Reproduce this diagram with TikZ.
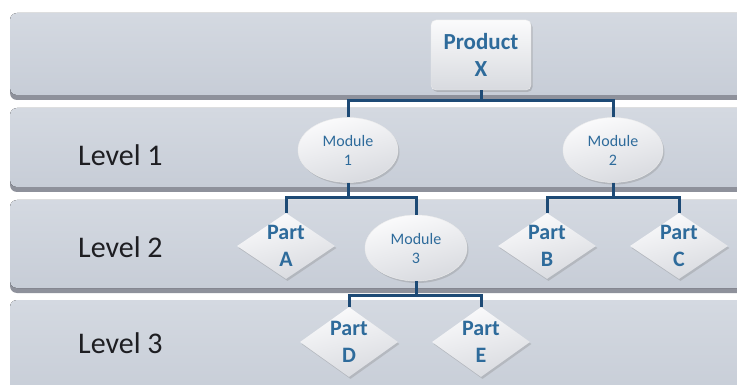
\documentclass[tikz,border=0pt]{standalone}
\usepackage{fontspec}
\setmainfont{Carlito}
\usetikzlibrary{shapes.geometric,shadows}

\definecolor{bandtop}{HTML}{D4D9E1}
\definecolor{bandbot}{HTML}{C7CDD7}
\definecolor{bandshade}{HTML}{8E919B}
\definecolor{wire}{HTML}{1D4A75}
\definecolor{ink}{HTML}{2E6B9B}
\definecolor{labelink}{HTML}{1E1E22}
\definecolor{nodetop}{HTML}{FBFBFC}
\definecolor{nodebot}{HTML}{D8DADF}

\tikzset{
  band/.style={rounded corners=7pt, top color=bandtop, bottom color=bandbot, draw=none},
  bandshadow/.style={rounded corners=7pt, fill=bandshade, draw=none},
  levellabel/.style={anchor=west, text=labelink, font=\fontsize{30}{34}\selectfont, inner sep=0pt},
  boxnode/.style={rectangle, rounded corners=5pt, minimum width=100pt, minimum height=70pt,
    top color=nodetop, bottom color=nodebot, draw=white!85!gray, line width=0.4pt,
    drop shadow={shadow xshift=1.5pt, shadow yshift=-2pt, opacity=0.35},
    text=ink, align=center, font=\bfseries\fontsize{23}{27}\selectfont},
  modnode/.style={ellipse, minimum width=100pt, minimum height=65pt, inner sep=0pt,
    top color=nodetop, bottom color=nodebot, shading angle=15, draw=white!85!gray, line width=0.4pt,
    drop shadow={shadow xshift=1.5pt, shadow yshift=-2pt, opacity=0.3},
    text=ink, align=center, font=\fontsize{16}{19}\selectfont},
  partshape/.style={diamond, minimum width=98pt, minimum height=66pt, inner sep=0pt,
    top color=nodetop, bottom color=nodebot, shading angle=15, draw=none,
    drop shadow={shadow xshift=1.5pt, shadow yshift=-2pt, opacity=0.3}},
  parttext/.style={text=ink, align=center, inner sep=0pt,
    font=\bfseries\fontsize{22}{27}\selectfont},
  wireline/.style={draw=wire, line width=3pt, line join=miter, line cap=butt},
}

\begin{document}
\begin{tikzpicture}[x=1pt,y=-1pt]
  % canvas
  \fill[white] (0,0) rectangle (737,385);
  \useasboundingbox (0,0) rectangle (737,385);

  % level bands with their shadows
  \begin{scope}
    \clip (0,0) rectangle (737,385);
    \fill[bandshadow] (10,17) rectangle (760,100);
    \fill[band]       (10,13) rectangle (760,95);
    \fill[bandshadow] (10,112) rectangle (760,192);
    \fill[band]       (10,108) rectangle (760,187);
    \fill[bandshadow] (10,204) rectangle (760,293);
    \fill[band]       (10,200) rectangle (760,288);
    \fill[band]       (10,300) rectangle (760,400);
  \end{scope}

  % level captions
  \node[levellabel] (l1) at (78,155) {Level 1};
  \node[levellabel] (l2) at (78,247) {Level 2};
  \node[levellabel] (l3) at (78,343) {Level 3};

  % junction points of the tree
  \coordinate (j0) at (481,101);
  \coordinate (j1) at (348,198);
  \coordinate (j2) at (613,198);
  \coordinate (j3) at (416,295);

  % product
  \node[boxnode] (prod) at (481,55) {Product\\X};

  % modules
  \node[modnode] (m1) at (348,150) {Module\\1};
  \node[modnode] (m2) at (613,150) {Module\\2};
  \node[modnode, minimum width=102pt, minimum height=66pt] (m3) at (416,248) {Module\\3};

  % parts
  \node[partshape] (pa) at (286,246) {};
  \node[partshape] (pb) at (547,246) {};
  \node[partshape] (pc) at (679,246) {};
  \node[partshape, minimum height=70pt] (pd) at (349,342) {};
  \node[partshape, minimum height=70pt] (pe) at (481,342) {};
  \node[parttext] (ta) at (pa) {Part\\A};
  \node[parttext] (tb) at (pb) {Part\\B};
  \node[parttext] (tc) at (pc) {Part\\C};
  \node[parttext] (td) at (pd) {Part\\D};
  \node[parttext] (te) at (pe) {Part\\E};

  % tree connectors: stub from each parent to its bus, bus out to each child
  \draw[wireline] (prod.south) -- (j0);
  \draw[wireline] (m1.south) -- (j1);
  \draw[wireline] (m2.south) -- (j2);
  \draw[wireline] (m3.south) -- (j3);
  \draw[wireline] (j0) -| (m1.north);
  \draw[wireline] (j0) -| (m2.north);
  \draw[wireline] (j1) -| (pa.north);
  \draw[wireline] (j1) -| (m3.north);
  \draw[wireline] (j2) -| (pb.north);
  \draw[wireline] (j2) -| (pc.north);
  \draw[wireline] (j3) -| (pd.north);
  \draw[wireline] (j3) -| (pe.north);
\end{tikzpicture}
\end{document}
